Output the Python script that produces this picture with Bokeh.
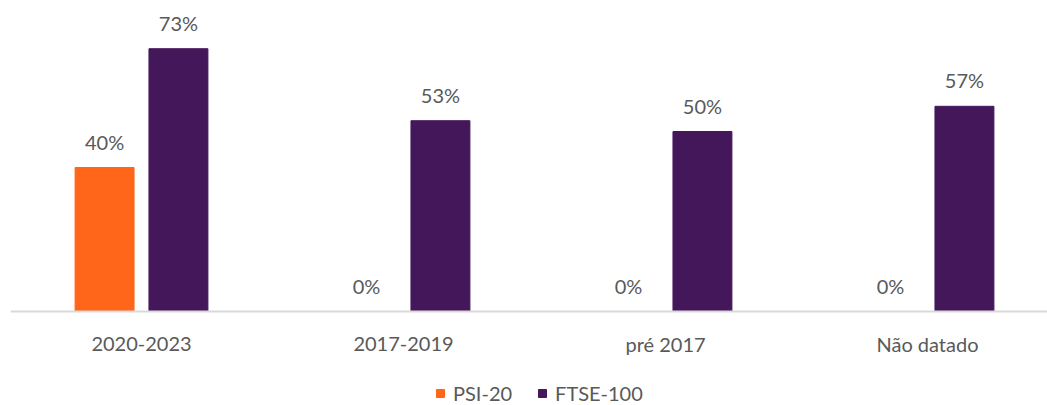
import numpy as np
from bokeh.plotting import figure
from bokeh.models import Range1d, ColumnDataSource, Legend, LegendItem, Span
from bokeh.core.properties import value
from bokeh.embed import file_html
from bokeh.resources import INLINE

categories = ["2020-2023", "2017-2019", "pré 2017", "Não datado"]
psi20 = [40, 0, 0, 0]
ftse100 = [73, 53, 50, 57]
series_names = ["PSI-20", "FTSE-100"]
colors = ["#FF661A", "#44175B"]

FONT = "Lato"
TXT = "#595959"

idx = np.arange(len(categories))
off = 0.141
bw = 0.225

src_a = ColumnDataSource(dict(x=idx - off, top=psi20, lab=[f"{v}%" for v in psi20]))
src_b = ColumnDataSource(dict(x=idx + off, top=ftse100, lab=[f"{v}%" for v in ftse100]))
src_c = ColumnDataSource(dict(x=idx, y=[0] * len(categories), cat=categories))

p = figure(width=1047, height=405, output_backend="svg", toolbar_location=None,
           x_range=Range1d(-0.5, 3.458), y_range=Range1d(-26.11, 84.17),
           min_border_left=10, min_border_right=0, min_border_top=8, min_border_bottom=0)
p.outline_line_color = None
p.grid.visible = False
p.axis.visible = False
p.background_fill_color = "white"
p.border_fill_color = "white"

ra = p.vbar(x="x", top="top", width=bw, source=src_a, fill_color=colors[0], line_color=colors[0])
rb = p.vbar(x="x", top="top", width=bw, source=src_b, fill_color=colors[1], line_color=colors[1])

p.add_layout(Span(location=0, dimension="width", line_color="#D9D9D9", line_width=2))

for s in (src_a, src_b):
    p.text(x="x", y="top", text="lab", source=s, text_align="center", text_baseline="alphabetic",
           y_offset=-26, text_font=value(FONT), text_font_size="20px", text_color=TXT)

# category labels along the baseline
p.text(x="x", y="y", text="cat", source=src_c, text_align="center", text_baseline="middle",
       y_offset=32, text_font=value(FONT), text_font_size="20px", text_color=TXT)

legend = Legend(items=[LegendItem(label=series_names[0], renderers=[ra]),
                       LegendItem(label=series_names[1], renderers=[rb])],
                orientation="horizontal", location=(425, 0),
                glyph_width=10, glyph_height=10, label_standoff=8, spacing=25,
                label_height=18,
                label_text_font=FONT, label_text_font_size="20px", label_text_color=TXT,
                border_line_color=None, background_fill_alpha=0, padding=0, margin=0)
p.add_layout(legend, "center")

open("out.html", "w").write(file_html(p, INLINE))
